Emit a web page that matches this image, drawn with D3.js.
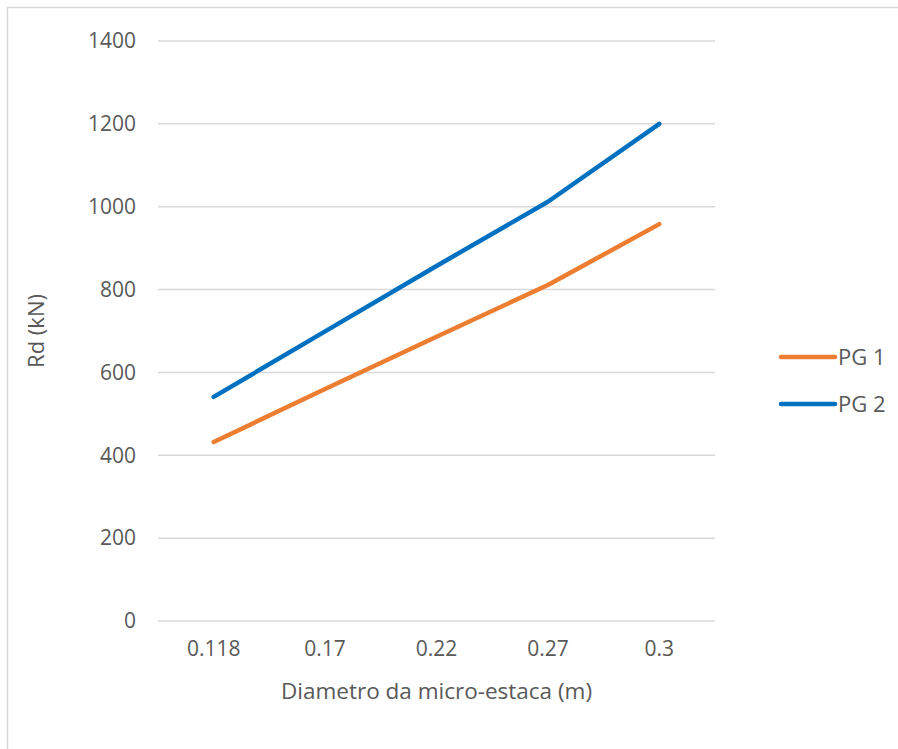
<!DOCTYPE html>
<html>
<head>
<meta charset="utf-8">
<script src="https://cdn.jsdelivr.net/npm/d3@7"></script>
<style>
  body { margin: 0; background: #fff; }
  text { font-family: "Open Sans", sans-serif; fill: #595959; }
</style>
</head>
<body>
<svg id="chart" width="898" height="749"></svg>
<script>
const categories = ['0.118', '0.17', '0.22', '0.27', '0.3'];
const pg1 = [432, 560, 686, 811, 958];
const pg2 = [541, 699, 857, 1012, 1200];
const yTicks = [0, 200, 400, 600, 800, 1000, 1200, 1400];
const seriesNames = ['PG 1', 'PG 2'];
const seriesColors = ['#ED7D31', '#0070C0'];

const svg = d3.select('#chart');

// outer chart border (runs off the right and bottom edge)
svg.append('rect')
    .attr('x', 7.5).attr('y', 7.5)
    .attr('width', 900).attr('height', 760)
    .attr('fill', '#fff')
    .attr('stroke', '#d9d9d9')
    .attr('stroke-width', 1.5);

const plot = { left: 158, right: 715, top: 41, bottom: 621 };

const x = d3.scaleBand().domain(categories).range([plot.left, plot.right]);
const y = d3.scaleLinear().domain([0, 1400]).range([plot.bottom, plot.top]);

// gridlines
svg.append('g')
    .selectAll('line')
    .data(yTicks)
    .enter()
    .append('line')
    .attr('x1', plot.left).attr('x2', plot.right)
    .attr('y1', d => y(d)).attr('y2', d => y(d))
    .attr('stroke', '#d9d9d9')
    .attr('stroke-width', 1.5);

// y axis labels
const yAxis = svg.append('g')
    .attr('transform', `translate(${plot.left}, 0)`)
    .call(d3.axisLeft(y).tickValues(yTicks).tickFormat(d3.format('d')).tickSize(0).tickPadding(22));
yAxis.select('.domain').remove();
yAxis.selectAll('text')
    .attr('font-size', 21)
    .attr('font-family', '"Open Sans", sans-serif')
    .attr('fill', '#595959');

// x axis labels
const xAxis = svg.append('g')
    .attr('transform', `translate(0, ${plot.bottom})`)
    .call(d3.axisBottom(x).tickSize(0).tickPadding(20));
xAxis.select('.domain').remove();
xAxis.selectAll('text')
    .attr('font-size', 21)
    .attr('font-family', '"Open Sans", sans-serif')
    .attr('fill', '#595959');

// axis titles
svg.append('text')
    .attr('x', (plot.left + plot.right) / 2)
    .attr('y', 699)
    .attr('text-anchor', 'middle')
    .attr('font-size', 22.5)
    .text('Diametro da micro-estaca (m)');

svg.append('text')
    .attr('transform', `translate(44, ${(plot.top + plot.bottom) / 2}) rotate(-90)`)
    .attr('text-anchor', 'middle')
    .attr('font-size', 22)
    .text('Rd (kN)');

// lines
const line = d3.line()
    .x((d, i) => x(categories[i]) + x.bandwidth() / 2)
    .y(d => y(d));

svg.append('g')
    .selectAll('path')
    .data([pg1, pg2])
    .enter()
    .append('path')
    .attr('d', line)
    .attr('fill', 'none')
    .attr('stroke', (d, i) => seriesColors[i])
    .attr('stroke-width', 4.5)
    .attr('stroke-linecap', 'round')
    .attr('stroke-linejoin', 'round');

// legend
const legend = svg.append('g')
    .selectAll('g')
    .data(seriesNames)
    .enter()
    .append('g')
    .attr('transform', (d, i) => `translate(781, ${357 + i * 47})`);

legend.append('line')
    .attr('x1', 0).attr('x2', 54)
    .attr('stroke', (d, i) => seriesColors[i])
    .attr('stroke-width', 4.5)
    .attr('stroke-linecap', 'round');

legend.append('text')
    .attr('x', 57)
    .attr('dy', '0.35em')
    .attr('font-size', 22)
    .text(d => d);
</script>
</body>
</html>
